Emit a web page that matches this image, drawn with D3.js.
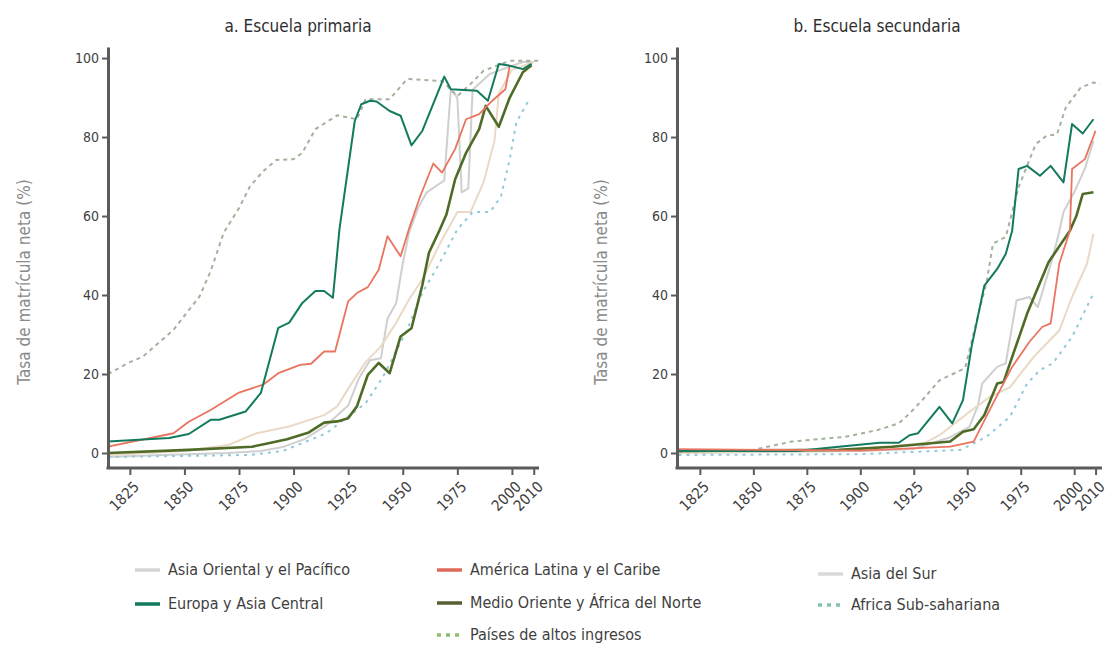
<!DOCTYPE html>
<html>
<head>
<meta charset="utf-8">
<script src="https://cdn.jsdelivr.net/npm/d3@7/dist/d3.min.js"></script>
<style>
  html, body { margin: 0; padding: 0; background: #fff; }
  svg { display: block; }
  text { font-family: "DejaVu Sans Condensed", "DejaVu Sans", sans-serif; }
</style>
</head>
<body>
<svg id="chart" width="1114" height="646"></svg>
<script>
// ---- Series: [year, net enrolment %] ----
// a. Primary school
const primAsiaOriental = [[1815,-1],[1840,-0.5],[1870,0],[1885,0.5],[1895,1.5],[1905,3.5],[1915,7],[1925,12],[1930,19],[1935,23.5],[1940,24],[1943,34],[1947,38],[1950,48],[1953,56],[1957,62],[1961,66],[1965,67.5],[1969,69],[1972,92],[1975,90],[1977,66],[1980,67],[1982,92],[1990,96],[1995,97],[2000,98],[2005,99],[2010,99]];
const primEuropa = [[1815,2.9],[1843,3.8],[1852,4.8],[1862,8.4],[1866,8.4],[1878,10.5],[1885,15.2],[1893,31.7],[1898,33],[1904,38],[1910,41],[1914,41],[1918,39.3],[1921,56.6],[1928,84],[1931,88.3],[1935,89.2],[1938,89],[1944,86.6],[1949,85.4],[1954,77.9],[1959,81.6],[1969,95.3],[1972,92.1],[1984,91.7],[1989,89.2],[1994,98.5],[1998,98.2],[2005,97.2],[2009,98.5]];
const primAmerica = [[1815,1.6],[1845,5],[1852,7.9],[1862,10.9],[1875,15.3],[1886,17.3],[1893,20.2],[1903,22.3],[1908,22.6],[1914,25.7],[1919,25.7],[1925,38.4],[1929,40.5],[1934,42],[1939,46.4],[1943,54.9],[1949,49.8],[1953,57],[1958,65],[1964,73.3],[1968,71],[1974,77],[1979,84.5],[1985,85.8],[1991,89.2],[1997,92.1],[1999,98]];
const primMedio = [[1815,0],[1852,0.8],[1881,1.6],[1888,2.4],[1897,3.5],[1907,5.2],[1914,7.7],[1920,8],[1925,8.8],[1929,11.8],[1934,19.8],[1939,22.8],[1944,20.2],[1949,29.5],[1954,31.6],[1959,42.6],[1962,50.7],[1967,56.6],[1970,60.4],[1974,69.3],[1979,76],[1985,82],[1988,87.9],[1994,82.6],[1999,90],[2005,96.4],[2009,98.2]];
const primAltos = [[1815,20],[1825,23],[1831,24.4],[1845,31.2],[1857,39.7],[1862,46],[1868,55.8],[1875,62],[1880,67.5],[1886,71.3],[1892,74.2],[1900,74.4],[1904,76],[1910,82],[1920,85.5],[1929,84.5],[1933,89.6],[1944,89.6],[1952,94.7],[1968,94.2],[1975,90.4],[1981,93.4],[1987,96.8],[1999,99.3],[2012,99.3]];
const primAsiaSur = [[1815,-0.5],[1850,0.5],[1870,2],[1883,5],[1898,6.7],[1914,9.6],[1920,11.8],[1927,18],[1933,23],[1940,27],[1947,33],[1953,39],[1959,44],[1967,53],[1975,61],[1981,61],[1987,68.5],[1992,79],[1994,91],[2000,97],[2010,99]];
const primAfrica = [[1815,-1],[1880,-0.5],[1895,0.5],[1904,2.5],[1915,5],[1923,8.4],[1933,12.6],[1941,19.3],[1952,31.2],[1959,40.6],[1967,48.2],[1975,56.6],[1982,61],[1990,61],[1995,65],[1999,74.4],[2002,83.7],[2008,89.6]];

// b. Secondary school
const secAsiaOriental = [[1815,0],[1900,0.5],[1925,1],[1942,4],[1951,6.6],[1955,12],[1957,17.6],[1964,21.8],[1968,22.7],[1973,38.6],[1979,39.5],[1983,36.9],[1990,49.6],[1993,56],[1995,61],[2000,66],[2005,72],[2009,79]];
const secEuropa = [[1815,0.5],[1870,0.5],[1890,1.6],[1909,2.6],[1918,2.6],[1923,4.5],[1927,5],[1937,11.7],[1943,7.5],[1948,13.4],[1952,26.8],[1958,42.4],[1964,46.6],[1968,50.4],[1971,56.3],[1974,71.9],[1978,72.7],[1984,70.2],[1989,72.7],[1995,68.5],[1999,83.3],[2004,80.9],[2009,84.5]];
const secAmerica = [[1815,1],[1900,0.6],[1942,1.6],[1953,2.9],[1962,12.5],[1971,21.8],[1979,28.1],[1985,31.9],[1989,32.8],[1993,47.9],[1998,56.3],[1999,71.9],[2005,74.4],[2010,81.6]];
const secMedio = [[1815,0.5],[1890,0.8],[1915,1.6],[1942,2.9],[1948,5.4],[1953,6],[1958,9.6],[1964,17.6],[1967,18],[1978,35.3],[1988,48.3],[1998,56.3],[2001,60],[2004,65.6],[2009,66]];
const secAltos = [[1815,0.3],[1850,0.8],[1868,2.9],[1893,4.1],[1908,5.8],[1918,7.5],[1923,10],[1929,13.4],[1937,18.4],[1949,21.5],[1956,37],[1959,43],[1962,53],[1968,54.7],[1974,67.3],[1982,78.2],[1987,80.3],[1992,80.7],[1996,87.4],[2003,92.5],[2009,93.8],[2012,93.5]];
const secAsiaSur = [[1815,0],[1900,0.8],[1930,2.5],[1937,4.5],[1951,10.4],[1960,14],[1970,16.7],[1981,24.3],[1993,31],[1999,39.5],[2006,47.9],[2009,55.5]];
const secAfrica = [[1815,-0.5],[1900,-0.3],[1947,0.8],[1959,4.1],[1970,9.2],[1978,17.6],[1984,21],[1990,22.7],[1999,29.4],[2009,40.4]];

// ---- Labels ----
const panelTitles = ["a. Escuela primaria", "b. Escuela secundaria"];
const yAxisLabel = "Tasa de matrícula neta (%)";
const xTickYears = [1825, 1850, 1875, 1900, 1925, 1950, 1975, 2000, 2010];
const yTickValues = [0, 20, 40, 60, 80, 100];
const regionNames = ["Asia Oriental y el Pacífico", "Europa y Asia Central", "América Latina y el Caribe",
  "Medio Oriente y África del Norte", "Países de altos ingresos", "Asia del Sur", "Africa Sub-sahariana"];

// ---- Styles per region ----
const styles = {
  "Asia Oriental y el Pacífico":      { color: "#cfcfcf", width: 2,   dash: null },
  "Asia del Sur":                     { color: "#ead9c4", width: 2,   dash: null },
  "Africa Sub-sahariana":             { color: "#93c9d8", width: 2,   dash: "3,5" },
  "Países de altos ingresos":         { color: "#a3b29a", width: 2,   dash: "4,4" },
  "Medio Oriente y África del Norte": { color: "#4f6b27", width: 2.6, dash: null },
  "América Latina y el Caribe":       { color: "#ea7460", width: 1.8, dash: null },
  "Europa y Asia Central":            { color: "#137a5d", width: 2,   dash: null }
};
const legendSwatch = {
  "Asia Oriental y el Pacífico": "#d4d4d4",
  "Europa y Asia Central": "#137a5d",
  "América Latina y el Caribe": "#e06a5a",
  "Medio Oriente y África del Norte": "#55612f",
  "Países de altos ingresos": "#8fbd6d",
  "Asia del Sur": "#dadada",
  "Africa Sub-sahariana": "#84c2b4"
};

// draw order: faint lines first, strong lines on top
const panels = [
  {
    title: panelTitles[0],
    xDomain: [1815, 2012.4], xRange: [108, 539], labelX: 25, titleX: 298,
    series: [
      [regionNames[0], primAsiaOriental], [regionNames[5], primAsiaSur], [regionNames[6], primAfrica],
      [regionNames[4], primAltos], [regionNames[3], primMedio], [regionNames[2], primAmerica],
      [regionNames[1], primEuropa]
    ]
  },
  {
    title: panelTitles[1],
    xDomain: [1814.3, 2013], xRange: [677, 1102], labelX: 602, titleX: 877,
    series: [
      [regionNames[0], secAsiaOriental], [regionNames[5], secAsiaSur], [regionNames[6], secAfrica],
      [regionNames[4], secAltos], [regionNames[3], secMedio], [regionNames[1], secEuropa],
      [regionNames[2], secAmerica]
    ]
  }
];

const svg = d3.select("#chart");
const axisColor = "#5b5b5b";
const textColor = "#3f3f3f";

panels.forEach(p => {
  const x = d3.scaleLinear().domain(p.xDomain).range(p.xRange);
  const y = d3.scaleLinear().domain([-3.8, 102.8]).range([468, 47]);
  const g = svg.append("g");

  // lines
  const line = d3.line().x(d => x(d[0])).y(d => y(d[1]));
  p.series.forEach(([name, data]) => {
    const s = styles[name];
    g.append("path")
      .datum(data)
      .attr("d", line)
      .attr("fill", "none")
      .attr("stroke", s.color)
      .attr("stroke-width", s.width)
      .attr("stroke-linejoin", "round")
      .attr("stroke-dasharray", s.dash);
  });

  // y axis
  const yAxis = g.append("g")
    .attr("transform", `translate(${p.xRange[0]},0)`)
    .call(d3.axisLeft(y).tickValues(yTickValues).tickSize(6).tickSizeOuter(0).tickPadding(3));
  yAxis.select(".domain").attr("stroke", axisColor).attr("stroke-width", 3);
  yAxis.selectAll(".tick line").attr("stroke", axisColor).attr("stroke-width", 2);
  yAxis.selectAll(".tick text").attr("fill", textColor).style("font-size", "14px");

  // x axis
  const xAxis = g.append("g")
    .attr("transform", "translate(0,468)")
    .call(d3.axisBottom(x).tickValues(xTickYears).tickFormat(d3.format("d")).tickSize(7).tickSizeOuter(0));
  xAxis.select(".domain").attr("stroke", axisColor).attr("stroke-width", 3)
    .attr("d", `M${p.xRange[0] - 1.5},0H${p.xRange[1]}`);
  xAxis.selectAll(".tick line").attr("stroke", axisColor).attr("stroke-width", 2);
  xAxis.selectAll(".tick text")
    .attr("fill", textColor).style("font-size", "15px")
    .attr("text-anchor", "end")
    .attr("dy", "0.35em")
    .attr("transform", "translate(6,16) rotate(-45)")
    .attr("y", 0).attr("x", 0);

  // title
  svg.append("text")
    .attr("x", p.titleX).attr("y", 32)
    .attr("text-anchor", "middle")
    .style("font-size", "17px")
    .attr("fill", "#2f2f2f")
    .text(p.title);

  // y label
  svg.append("text")
    .attr("transform", `translate(${p.labelX},282) rotate(-90)`)
    .attr("text-anchor", "middle")
    .attr("dominant-baseline", "middle")
    .style("font-size", "17px")
    .attr("fill", "#8a8a8a")
    .text(yAxisLabel);
});

// ---- Legend ----
const legendItems = [
  { name: regionNames[0], x: 135, y: 570 },
  { name: regionNames[1], x: 135, y: 604 },
  { name: regionNames[2], x: 437, y: 570 },
  { name: regionNames[3], x: 437, y: 603 },
  { name: regionNames[4], x: 437, y: 635 },
  { name: regionNames[5], x: 818, y: 574 },
  { name: regionNames[6], x: 818, y: 605 }
];
const lg = svg.append("g");
legendItems.forEach(it => {
  const s = styles[it.name];
  lg.append("line")
    .attr("x1", it.x).attr("x2", it.x + 25)
    .attr("y1", it.y).attr("y2", it.y)
    .attr("stroke", legendSwatch[it.name])
    .attr("stroke-width", 3.5)
    .attr("stroke-dasharray", s.dash ? "4,5" : null);
  lg.append("text")
    .attr("x", it.x + 33).attr("y", it.y)
    .attr("dominant-baseline", "middle")
    .style("font-size", "16px")
    .attr("fill", textColor)
    .text(it.name);
});
</script>
</body>
</html>
